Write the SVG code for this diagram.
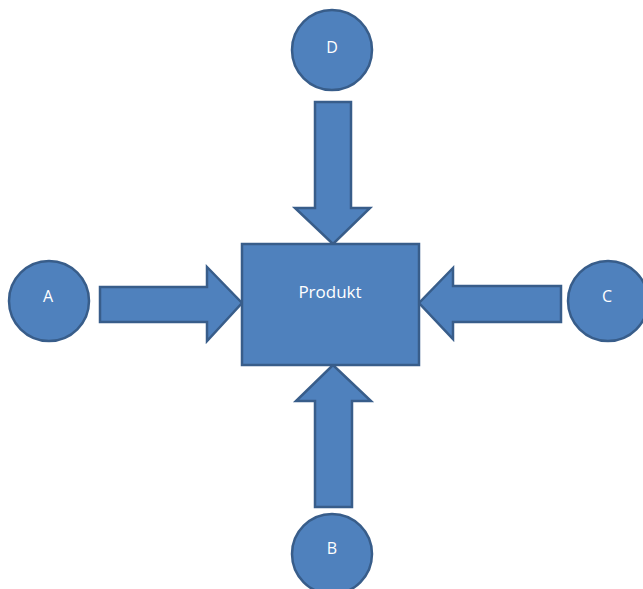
<svg xmlns="http://www.w3.org/2000/svg" width="643" height="589" viewBox="0 0 643 589">
  <style>
    .shape { fill: #4F81BD; stroke: #385D8A; stroke-width: 2.5; stroke-linejoin: miter; }
    .label { fill: #FFFFFF; font-family: "Open Sans", "Liberation Sans", sans-serif; font-size: 16px; text-anchor: middle; }
    .title { font-size: 17px; }
  </style>
  <rect width="643" height="589" fill="#FFFFFF"/>

  <!-- block arrows pointing into the product box -->
  <g id="connectors">
    <!-- from D (top) -->
    <polygon class="shape" points="315,102 351,102 351,208 370,208 333,244 295,208 315,208"/>
    <!-- from A (left) -->
    <polygon class="shape" points="100,287 207,287 207,267 242,303 207,341 207,322 100,322"/>
    <!-- from C (right) -->
    <polygon class="shape" points="561,286 453,286 453,268 419,303 453,339 453,322 561,322"/>
    <!-- from B (bottom) -->
    <polygon class="shape" points="315,507 352,507 352,401 371,401 333,365 296,401 315,401"/>
  </g>

  <g id="produkt">
    <rect class="shape" x="242" y="244" width="177" height="121"/>
    <text class="label title" x="330" y="298">Produkt</text>
  </g>

  <g id="node-d">
    <circle class="shape" cx="332" cy="50" r="40"/>
    <text class="label" x="332" y="53">D</text>
  </g>

  <g id="node-a">
    <circle class="shape" cx="49" cy="301" r="40"/>
    <text class="label" x="48" y="302">A</text>
  </g>

  <g id="node-c">
    <circle class="shape" cx="608" cy="301" r="40"/>
    <text class="label" x="607" y="302">C</text>
  </g>

  <g id="node-b">
    <circle class="shape" cx="332" cy="554" r="40"/>
    <text class="label" x="332" y="554">B</text>
  </g>
</svg>
